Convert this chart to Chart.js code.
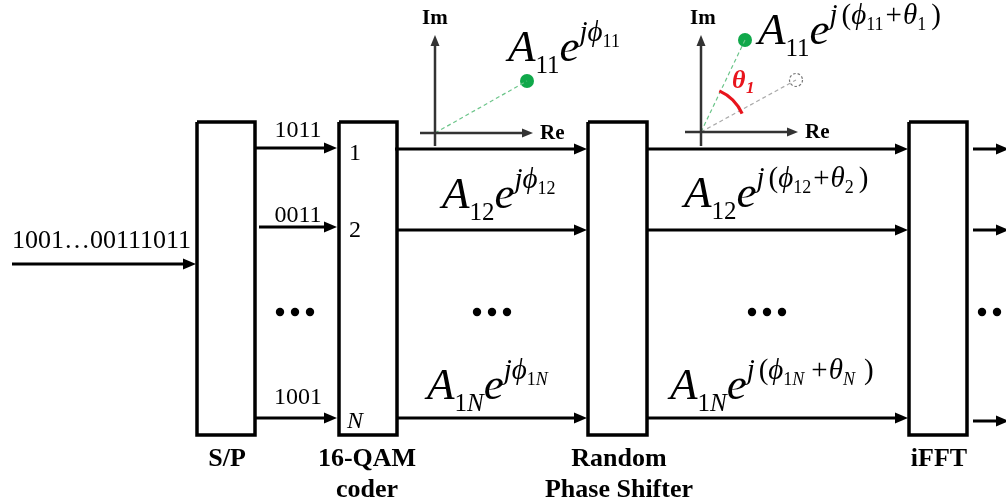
<!DOCTYPE html>
<html>
<head>
<meta charset="utf-8">
<title>OFDM random phase shifter diagram</title>
<script src="https://cdn.jsdelivr.net/npm/chart.js"></script>
<style>
  body { margin: 0; background: #ffffff; }
  canvas { display: block; }
</style>
</head>
<body>
<canvas id="chart" width="1006" height="504"></canvas>
<script>
// Diagram data, in the 1006 x 504 plot units of the hidden axes
const blockNames = [['S/P'], ['16-QAM', 'coder'], ['Random', 'Phase Shifter'], ['iFFT']];
const blockLeft = [197, 339, 588, 909];
const blockRight = [255, 397, 647, 967];
const blockTop = 122;
const blockBottom = 435;
const blockLabelX = [227, 367, 619, 939];

const inputBits = '1001…00111011';
const bitWords = ['1011', '0011', '1001'];
const bitWordY = [137, 222, 404];
const channelIds = ['1', '2', 'N'];
const channelIdY = [160, 237, 428];

// arrows: [x1, y1, tipX, tipY]
const arrows = [
  [12, 264, 196, 264],
  [255, 148, 337, 148], [259, 227, 337, 227], [255, 418, 337, 418],
  [395, 149, 587, 149], [397, 230, 587, 230], [397, 418, 587, 418],
  [647, 149, 908, 149], [647, 230, 908, 230], [647, 418, 908, 418],
  [973, 149, 1009, 149], [973, 230, 1009, 230], [973, 421, 1009, 421]
];
const axisArrows = [
  [435, 146, 435, 35], [420, 133, 533, 133],
  [701, 146, 701, 35], [685, 132, 798, 132]
];
const dotGroupX = [295, 492, 767, 997];
const dotY = 312;

const phasorOrigin = [[435, 133], [701, 132]];
const phasorTip = [[527, 81], [745, 40]];
const oldPhasor = [796, 80];
const thetaArc = [-66, -24];   // degrees
const thetaRadius = 45;

const SERIF = '"Liberation Serif", "Times New Roman", serif';
const F_MAIN = 'italic 45px ' + SERIF;
const F_SUB = '25px ' + SERIF;
const F_SUBI = 'italic 25px ' + SERIF;
const F_SUP = 'italic 29px ' + SERIF;
const F_SUPU = '29px ' + SERIF;
const F_SS = '18px ' + SERIF;
const F_SSI = 'italic 18px ' + SERIF;

function formula(sub, withTheta, thetaSub) {
  const isN = sub === '1N';
  const subRuns = isN
    ? [['1', F_SUB, 12], ['N', F_SUBI, 12]]
    : [[sub, F_SUB, 12]];
  const ssRuns = isN
    ? [['1', F_SS, -14], ['N', F_SSI, -14]]
    : [[sub, F_SS, -14]];
  let runs = [['A', F_MAIN, 0]].concat(subRuns, [['e', F_MAIN, 0]]);
  if (!withTheta) {
    runs = runs.concat([['j', F_SUP, -20], ['ϕ', F_SUP, -20]], ssRuns);
  } else {
    const gap = isN ? 7 : 2;
    const tSub = thetaSub === 'N' ? [['N', F_SSI, -14]] : [[thetaSub, F_SS, -14]];
    runs = runs.concat([['j', F_SUP, -20, 4], ['(', F_SUPU, -20], ['ϕ', F_SUP, -20]], ssRuns,
      [['+', F_SUPU, -20, 1, gap], ['θ', F_SUP, -20]], tSub, [[')', F_SUPU, -20, 0, isN ? 9 : 5]]);
  }
  return runs;
}

// [x, baseline, runs]
const formulas = [
  [508, 61, formula('11', false)],
  [758, 44, formula('11', true, '1')],
  [442, 208, formula('12', false)],
  [684, 207, formula('12', true, '2')],
  [427, 399, formula('1N', false)],
  [670, 399, formula('1N', true, 'N')]
];

const datasets = [];
blockLeft.forEach((l, i) => {
  const r = blockRight[i];
  datasets.push({
    data: [{x: l, y: blockTop}, {x: r, y: blockTop}, {x: r, y: blockBottom}, {x: l, y: blockBottom}, {x: l, y: blockTop}],
    showLine: true, borderColor: '#000', borderWidth: 3.5, pointRadius: 0, borderJoinStyle: 'miter'
  });
});
arrows.forEach(a => {
  const ang = Math.atan2(a[3] - a[1], a[2] - a[0]);
  datasets.push({
    data: [{x: a[0], y: a[1]}, {x: a[2] - 10 * Math.cos(ang), y: a[3] - 10 * Math.sin(ang)}],
    showLine: true, borderColor: '#000', borderWidth: 3, pointRadius: 0
  });
});
axisArrows.forEach(a => {
  const ang = Math.atan2(a[3] - a[1], a[2] - a[0]);
  datasets.push({
    data: [{x: a[0], y: a[1]}, {x: a[2] - 8 * Math.cos(ang), y: a[3] - 8 * Math.sin(ang)}],
    showLine: true, borderColor: '#333', borderWidth: 2.5, pointRadius: 0
  });
});
phasorOrigin.forEach((o, i) => {
  datasets.push({
    data: [{x: o[0], y: o[1]}, {x: phasorTip[i][0], y: phasorTip[i][1]}],
    showLine: true, borderColor: '#6cc58a', borderWidth: 1.2, borderDash: [4, 3], pointRadius: 0
  });
});
datasets.push({
  data: [{x: phasorOrigin[1][0], y: phasorOrigin[1][1]}, {x: oldPhasor[0], y: oldPhasor[1]}],
  showLine: true, borderColor: '#aaa', borderWidth: 1.2, borderDash: [4, 3], pointRadius: 0
});
datasets.push({
  data: phasorTip.map(p => ({x: p[0], y: p[1]})),
  showLine: false, pointRadius: 7, pointBackgroundColor: '#10a84a', pointBorderWidth: 0
});
datasets.push({
  data: dotGroupX.flatMap(cx => [-15, 0, 15].map(d => ({x: cx + d, y: dotY}))),
  showLine: false, pointRadius: 4.2, pointBackgroundColor: '#000', pointBorderWidth: 0
});

const diagramPlugin = {
  id: 'diagram',
  afterDatasetsDraw(chart) {
    const ctx = chart.ctx;
    const sx = chart.scales.x, sy = chart.scales.y;
    const px = v => sx.getPixelForValue(v);
    const py = v => sy.getPixelForValue(v);
    ctx.save();

    // arrow heads
    const head = (a, len, half, color) => {
      const x1 = px(a[0]), y1 = py(a[1]), x2 = px(a[2]), y2 = py(a[3]);
      const ang = Math.atan2(y2 - y1, x2 - x1);
      ctx.fillStyle = color;
      ctx.beginPath();
      ctx.moveTo(x2, y2);
      ctx.lineTo(x2 - len * Math.cos(ang) + half * Math.sin(ang), y2 - len * Math.sin(ang) - half * Math.cos(ang));
      ctx.lineTo(x2 - len * Math.cos(ang) - half * Math.sin(ang), y2 - len * Math.sin(ang) + half * Math.cos(ang));
      ctx.closePath();
      ctx.fill();
    };
    arrows.forEach(a => head(a, 13, 5.5, '#000'));
    axisArrows.forEach(a => head(a, 11, 4.5, '#333'));

    // old phasor position (dashed hollow circle)
    ctx.setLineDash([2.5, 2]);
    ctx.strokeStyle = '#777';
    ctx.lineWidth = 1.2;
    ctx.beginPath();
    ctx.arc(px(oldPhasor[0]), py(oldPhasor[1]), 6.5, 0, Math.PI * 2);
    ctx.stroke();
    ctx.setLineDash([]);

    // theta arc
    const o = phasorOrigin[1];
    ctx.strokeStyle = '#e8141c';
    ctx.lineWidth = 3.2;
    ctx.beginPath();
    ctx.arc(px(o[0]), py(o[1]), px(o[0] + thetaRadius) - px(o[0]),
      thetaArc[0] * Math.PI / 180, thetaArc[1] * Math.PI / 180);
    ctx.stroke();
    ctx.fillStyle = '#e8141c';
    ctx.textAlign = 'left';
    ctx.font = 'bold italic 26px ' + SERIF;
    ctx.fillText('θ', px(732), py(88));
    ctx.font = 'bold italic 17px ' + SERIF;
    ctx.fillText('1', px(746), py(93));

    ctx.fillStyle = '#000';
    // plain labels
    ctx.font = '26px ' + SERIF;
    ctx.textAlign = 'left';
    ctx.fillText(inputBits, px(12), py(248));
    ctx.font = '24px ' + SERIF;
    ctx.textAlign = 'center';
    bitWords.forEach((w, i) => ctx.fillText(w, px(298), py(bitWordY[i])));
    ctx.textAlign = 'left';
    channelIds.forEach((c, i) => {
      ctx.font = (c === 'N' ? 'italic ' : '') + '24px ' + SERIF;
      ctx.fillText(c, px(c === 'N' ? 347 : 349), py(channelIdY[i]));
    });

    // block names
    ctx.font = 'bold 26px ' + SERIF;
    ctx.textAlign = 'center';
    blockNames.forEach((lines, i) => {
      lines.forEach((t, j) => ctx.fillText(t, px(blockLabelX[i]), py(466 + j * 31)));
    });

    // axis names
    ctx.font = 'bold 21px ' + SERIF;
    ctx.textAlign = 'left';
    ctx.fillText('Im', px(422), py(24));
    ctx.fillText('Re', px(540), py(139));
    ctx.fillText('Im', px(690), py(24));
    ctx.fillText('Re', px(805), py(138));

    // formulas
    formulas.forEach(f => {
      let x = px(f[0]);
      const base = py(f[1]);
      f[2].forEach(r => {
        ctx.font = r[1];
        x += r[4] || 0;
        ctx.fillText(r[0], x, base + r[2]);
        x += ctx.measureText(r[0]).width + (r[3] || 0);
      });
    });
    ctx.restore();
  }
};

new Chart(document.getElementById('chart'), {
  type: 'scatter',
  data: { datasets },
  options: {
    responsive: false,
    animation: false,
    layout: { padding: 0, autoPadding: false },
    plugins: { legend: { display: false }, tooltip: { enabled: false } },
    scales: {
      x: { type: 'linear', min: 0, max: 1006, display: false },
      y: { type: 'linear', min: 0, max: 504, reverse: true, display: false }
    }
  },
  plugins: [diagramPlugin]
});
</script>
</body>
</html>
